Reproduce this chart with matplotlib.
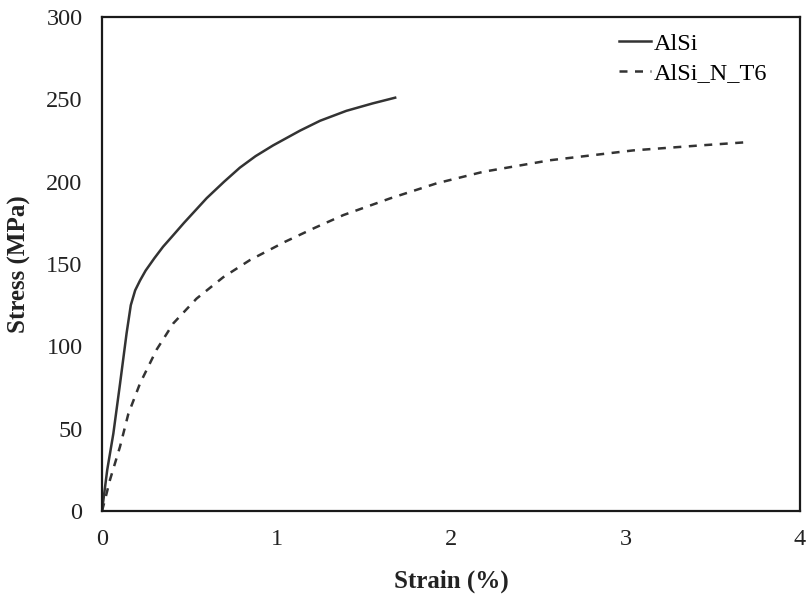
import matplotlib
matplotlib.use("Agg")
import matplotlib.pyplot as plt

# Tensile curves: engineering strain (%) vs. stress (MPa)
alsi_strain = [0.0, 0.03, 0.065, 0.103, 0.141, 0.165, 0.19, 0.218, 0.25, 0.30,
               0.35, 0.40, 0.47, 0.60, 0.70, 0.79, 0.88, 0.98, 1.135, 1.25,
               1.40, 1.55, 1.68]
alsi_stress = [0, 25, 47, 77, 108, 125, 134, 140, 146, 153.5,
               160.5, 166.5, 175, 190, 200, 208.5, 215.5, 222, 231, 237,
               243, 247.5, 251]

t6_strain = [0.0, 0.02, 0.046, 0.103, 0.151, 0.218, 0.313, 0.409, 0.542, 0.695,
             0.848, 1.049, 1.22, 1.383, 1.65, 1.918, 2.185, 2.567, 3.045, 3.427,
             3.70]
t6_stress = [0, 8, 19, 39, 59, 77.5, 98, 114, 129, 142,
             152.4, 163.5, 172, 179.7, 189.8, 199, 206, 213, 219, 222,
             224]

series_labels = ["AlSi", "AlSi_N_T6"]
x_ticks = [0, 1, 2, 3, 4]
y_ticks = [0, 50, 100, 150, 200, 250, 300]

plt.rcParams["font.family"] = ["Liberation Serif", "DejaVu Serif"]

fig = plt.figure(figsize=(8.06, 5.98), dpi=100)
ax = fig.add_axes([102 / 806, 87 / 598, 698 / 806, 494 / 598])

line_color = "#333333"
ax.plot(alsi_strain, alsi_stress, color=line_color, lw=1.8,
        solid_joinstyle="round", label=series_labels[0])
ax.plot(t6_strain, t6_stress, color=line_color, lw=1.8,
        dashes=(3.2, 3.0), label=series_labels[1])

ax.set_xlim(0, 4)
ax.set_ylim(0, 300)
ax.set_xticks(x_ticks)
ax.set_yticks(y_ticks)
ax.tick_params(length=0, labelsize=17.5, colors="#222222")
ax.tick_params(axis="x", pad=13)
ax.tick_params(axis="y", pad=14)

for sp in ax.spines.values():
    sp.set_linewidth(1.6)
    sp.set_color("#1a1a1a")

ax.set_xlabel("Strain (%)", fontsize=18, fontweight="bold", labelpad=14,
              color="#222222")
ax.set_ylabel("Stress (MPa)", fontsize=18, fontweight="bold", labelpad=11,
              color="#222222")

ax.legend(loc="upper left", bbox_to_anchor=(0.74, 0.968), frameon=False,
          fontsize=17.5, handlelength=1.35, handletextpad=0.1,
          labelspacing=0.3, borderpad=0, borderaxespad=0)

fig.savefig("out.png", dpi=100, facecolor="white")
